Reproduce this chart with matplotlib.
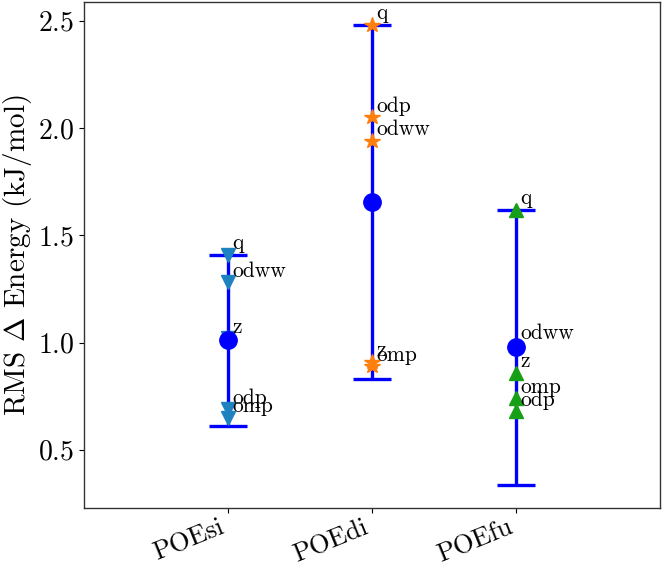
import matplotlib
matplotlib.use("Agg")
import matplotlib.pyplot as plt
import numpy as np

plt.rcParams['font.family'] = 'serif'
plt.rcParams['font.serif'] = ['cmr10', 'DejaVu Serif']
plt.rcParams['mathtext.fontset'] = 'cm'
plt.rcParams['axes.formatter.use_mathtext'] = True

models = ["POEsi", "POEdi", "POEfu"]
point_labels = ["q", "odww", "z", "odp", "omp"]
poesi_vals = [1.41, 1.28, 1.02, 0.69, 0.65]
poedi_vals = [2.48, 1.94, 0.91, 2.05, 0.89]
poefu_vals = [1.62, 0.99, 0.86, 0.68, 0.74]
series = [poesi_vals, poedi_vals, poefu_vals]
markers = ["v", "*", "^"]
colors = ["#1f82c0", "#ff7f0e", "#17a017"]

fig = plt.figure(figsize=(6.64, 5.71), dpi=100)
ax = fig.add_axes([0.1265, 0.1103, 0.8675, 0.8862])

for i, vals in enumerate(series):
    vals = np.array(vals)
    mean = vals.mean()
    err = vals.max() - mean
    ax.errorbar([i], [mean], yerr=[err], color='#0000ff', lw=2.4,
                capsize=14, capthick=2.4, fmt='none', zorder=2)
    ax.plot([i] * len(vals), vals, linestyle='none', marker=markers[i],
            color=colors[i], markersize=10 if markers[i] != '*' else 11.5, zorder=3)
    ax.plot([i], [mean], 'o', color='#0000ff', markersize=12.5, zorder=4)
    for lab, v in zip(point_labels, vals):
        ax.annotate(lab, (i, v), xytext=(3, 4), textcoords='offset points',
                    fontsize=15.5, va='baseline', ha='left', zorder=5)

ax.set_xlim(-1, 3)
ax.set_xticks(range(len(models)))
ax.set_xticklabels(models, rotation=22, ha='right', fontsize=19)
ax.tick_params(axis='x', pad=2)
ax.tick_params(axis='y', labelsize=20)
ax.set_yticks([0.5, 1.0, 1.5, 2.0, 2.5])
ax.set_ylabel(r'RMS $\mathbf{\Delta}$ Energy (kJ/mol)', fontsize=21, labelpad=3)
for s in ax.spines.values():
    s.set_color('#333333')
    s.set_linewidth(1.0)

fig.savefig("out.png", dpi=100)
